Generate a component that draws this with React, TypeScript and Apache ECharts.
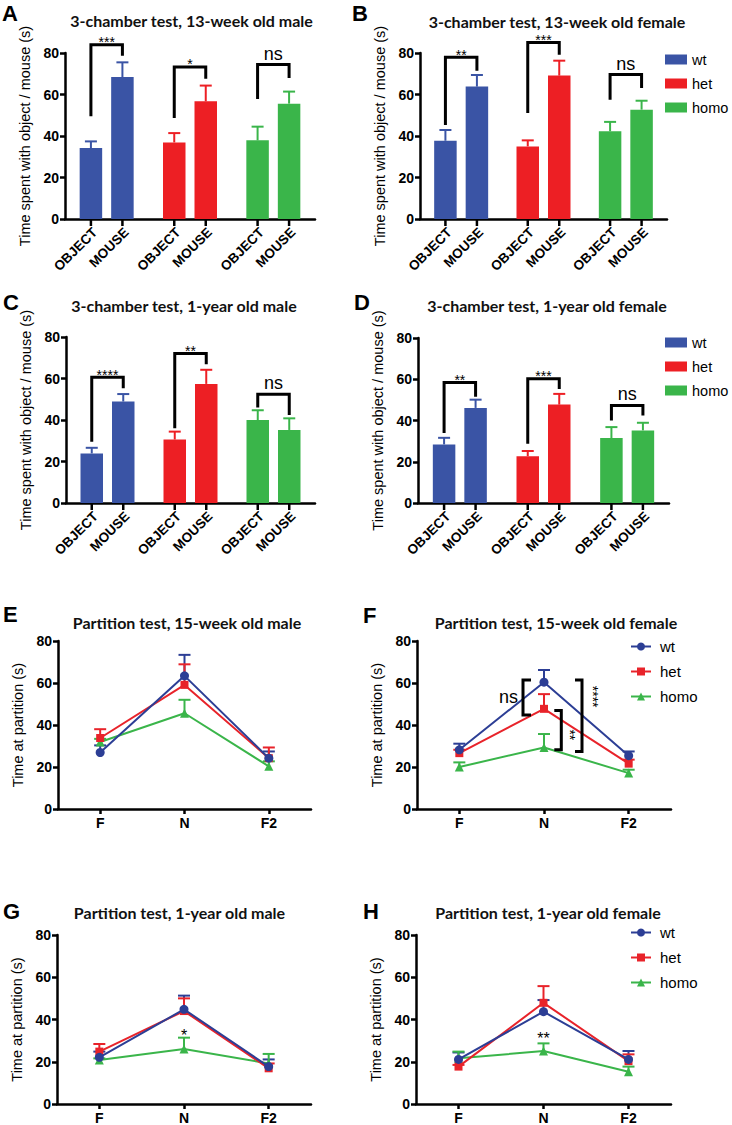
import React, { useEffect, useRef } from "react";
import * as echarts from "echarts";

// ---------- categories ----------
const genotypes = ["wt", "het", "homo"];
const chambers = ["OBJECT", "MOUSE"];
const partitions = ["F", "N", "F2"];

// ---------- 3-chamber test (mean and SEM, seconds) ----------
const aObject = [34.2, 36.9, 37.9];
const aObjectSem = [3.2, 4.5, 6.6];
const aMouse = [68.4, 56.7, 55.6];
const aMouseSem = [7.1, 7.6, 5.8];
const aSig = ["***", "*", "ns"];
const aBrackets = [[84.0, 49.5, 78.7], [73.3, 48.7, 67.6], [74.4, 57.8, 68.0]]; // top, left end, right end

const bObject = [37.7, 35.0, 42.3];
const bObjectSem = [5.2, 2.9, 4.5];
const bMouse = [63.8, 69.1, 52.7];
const bMouseSem = [5.6, 7.2, 4.3];
const bSig = ["**", "***", "ns"];
const bBrackets = [[77.9, 45.3, 71.5], [85.1, 51.1, 79.2], [69.6, 57.5, 63.1]];

const cObject = [23.9, 30.6, 40.0];
const cObjectSem = [2.7, 3.8, 4.7];
const cMouse = [48.9, 57.4, 35.2];
const cMouseSem = [3.6, 6.8, 5.6];
const cSig = ["****", "**", "ns"];
const cBrackets = [[60.6, 29.5, 55.3], [72.1, 36.0, 66.9], [52.4, 46.0, 42.4]];

const dObject = [28.4, 22.7, 31.5];
const dObjectSem = [3.2, 2.5, 5.3];
const dMouse = [46.1, 47.7, 35.2];
const dMouseSem = [4.0, 5.2, 3.7];
const dSig = ["**", "***", "ns"];
const dBrackets = [[58.4, 34.0, 51.5], [60.2, 28.7, 55.3], [47.3, 40.0, 42.4]];

// ---------- partition test (mean and SEM, seconds) at F, N, F2 ----------
const eWt = [26.9, 63.4, 24.2];
const eWtSem = [3.4, 10.0, 3.2];
const eHet = [33.8, 59.1, 24.2];
const eHetSem = [4.2, 9.8, 5.1];
const eHomo = [31.9, 45.6, 20.3];
const eHomoSem = [1.5, 6.4, 2.4];

const fWt = [28.2, 60.4, 25.4];
const fWtSem = [2.9, 5.8, 2.0];
const fHet = [26.6, 47.7, 21.6];
const fHetSem = [1.6, 7.0, 1.9];
const fHomo = [20.0, 29.3, 17.1];
const fHomoSem = [2.2, 6.4, 1.6];
// F brackets at N: top, bottom, label height
const fBrackets = [[61.4, 44.8, 53.1], [46.9, 28.2, 35.3], [61.4, 27.4, 53.5]];
const fBracketSig = ["ns", "**", "****"];

const gWt = [22.1, 44.8, 17.7];
const gWtSem = [2.7, 6.5, 3.4];
const gHet = [24.8, 44.0, 16.9];
const gHetSem = [3.6, 6.0, 2.3];
const gHomo = [20.8, 26.0, 19.2];
const gHomoSem = [0.8, 5.4, 4.5];
const gSig = ["*"];
const gSigAt = [34.2];

const hWt = [21.1, 43.7, 21.1];
const hWtSem = [3.3, 5.5, 4.0];
const hHet = [17.7, 47.9, 20.3];
const hHetSem = [0.8, 7.9, 3.2];
const hHomo = [21.6, 25.1, 15.3];
const hHomoSem = [3.2, 3.6, 2.4];
const hSig = ["**"];
const hSigAt = [32.7];

// ---------- styles ----------
const BAR_COLORS = ["#3a54a5", "#ed1f24", "#3ab54a"];
const LINE_COLORS = ["#2c3e95", "#e8232a", "#3ab54a"];
const SYMBOLS = ["circle", "rect", "triangle"];
const SYMBOL_SIZES = [9, 8, 9];
const AX = '"Liberation Sans", Arial, sans-serif';
const TITLE_FONT = "bold 16px Lato, sans-serif";
const BAR_W = 22.5;
const BAR_STEP = 31.5;

function yAxisCfg(name: string, nameGap: number, nameSize: number) {
  return {
    type: "value",
    min: 0,
    max: 80,
    interval: 20,
    axisLine: { show: true, lineStyle: { color: "#000", width: 2.5 } },
    axisTick: { show: true, length: 5, lineStyle: { color: "#000", width: 2.5 } },
    axisLabel: { color: "#000", fontWeight: "bold", fontSize: 14, fontFamily: AX, margin: 6 },
    splitLine: { show: false },
    name,
    nameLocation: "middle",
    nameGap,
    nameTextStyle: { fontSize: nameSize, fontFamily: AX, color: "#000" },
  };
}

function headerGraphics(p: any) {
  const [ox, oy] = p.box;
  return [
    {
      type: "text",
      x: p.titlePos[0] - ox,
      y: p.titlePos[1] - oy,
      style: { text: p.title, font: TITLE_FONT, fill: "#111", align: "center", verticalAlign: "middle", textAlign: "center", textVerticalAlign: "middle" },
    },
    {
      type: "text",
      x: p.letterPos[0] - ox,
      y: p.letterPos[1] - oy,
      style: { text: p.letter, font: `bold 22px ${AX}`, fill: "#000", align: "left", verticalAlign: "middle", textAlign: "left", textVerticalAlign: "middle" },
    },
  ];
}

function gridCfg(p: any) {
  const [ox, oy] = p.box;
  const [x0, x1, yTop, yBottom] = p.grid;
  return { left: x0 - ox, top: yTop - oy, width: x1 - x0, height: yBottom - yTop, outerBoundsMode: "none", containLabel: false };
}

function barOption(p: any) {
  const [ox, oy] = p.box;
  const series: any[] = [];
  genotypes.forEach((g, gi) => {
    [p.object, p.mouse].forEach((vals: number[], ci: number) => {
      series.push({
        type: "bar",
        name: g,
        stack: ci === 0 ? "obj" : "mouse",
        data: genotypes.map((_, i) => (i === gi ? vals[i] : "-")),
        barWidth: BAR_W,
        barGap: "40%",
        itemStyle: { color: BAR_COLORS[gi] },
        z: 2,
      });
    });
  });
  const errData: number[][] = [];
  genotypes.forEach((_, gi) => {
    errData.push([gi, 0, p.object[gi], p.objectSem[gi]]);
    errData.push([gi, 1, p.mouse[gi], p.mouseSem[gi]]);
  });
  series.push({
    type: "custom",
    silent: true,
    z: 3,
    encode: { x: 0, y: 2 },
    data: errData,
    renderItem: (_params: any, api: any) => {
      const gi = api.value(0);
      const ci = api.value(1);
      const m = api.value(2);
      const s = api.value(3);
      const base = api.coord([gi, 0]);
      const x = base[0] + (ci === 0 ? -1 : 1) * (BAR_STEP / 2);
      const yTop = api.coord([gi, m])[1];
      const yCap = api.coord([gi, m + s])[1];
      const col = BAR_COLORS[gi];
      return {
        type: "group",
        children: [
          { type: "line", shape: { x1: x, y1: yTop, x2: x, y2: yCap }, style: { stroke: col, lineWidth: 2 } },
          { type: "line", shape: { x1: x - 6, y1: yCap, x2: x + 6, y2: yCap }, style: { stroke: col, lineWidth: 2 } },
          { type: "line", shape: { x1: x, y1: base[1], x2: x, y2: base[1] + 7 }, style: { stroke: "#000", lineWidth: 2.5 } },
          {
            type: "text",
            x: x + 4,
            y: base[1] + 11,
            rotation: Math.PI / 4,
            style: { text: chambers[ci], font: `bold 13.5px ${AX}`, fill: "#000", align: "right", verticalAlign: "middle" },
          },
        ],
      };
    },
  });
  series.push({
    type: "custom",
    silent: true,
    z: 4,
    encode: { x: 0, y: 1 },
    data: p.brackets.map((b: number[], gi: number) => [gi, b[0], b[1], b[2]]),
    renderItem: (params: any, api: any) => {
      const gi = api.value(0);
      const xm = api.coord([gi, 0])[0];
      const xL = xm - BAR_STEP / 2;
      const xR = xm + BAR_STEP / 2;
      const yT = api.coord([gi, api.value(1)])[1];
      const yL = api.coord([gi, api.value(2)])[1];
      const yR = api.coord([gi, api.value(3)])[1];
      const label = p.sig[params.dataIndex];
      const isNs = label === "ns";
      return {
        type: "group",
        children: [
          {
            type: "polyline",
            shape: { points: [[xL, yL], [xL, yT], [xR, yT], [xR, yR]] },
            style: { stroke: "#000", lineWidth: 3, fill: "none" },
          },
          {
            type: "text",
            x: xm,
            y: isNs ? yT - 11 : yT - 2.5,
            style: {
              text: label,
              font: isNs ? `18px ${AX}` : `14px ${AX}`,
              fill: "#000",
              align: "center",
              verticalAlign: "middle",
            },
          },
        ],
      };
    },
  });
  const opt: any = {
    animation: false,
    backgroundColor: "transparent",
    grid: gridCfg(p),
    xAxis: {
      type: "category",
      data: genotypes,
      axisLine: { lineStyle: { color: "#000", width: 2.5 } },
      axisTick: { show: false },
      axisLabel: { show: false },
    },
    yAxis: yAxisCfg("Time spent with object / mouse (s)", p.nameGap, 14.5),
    series,
    graphic: headerGraphics(p),
  };
  if (p.legend) {
    opt.legend = {
      data: genotypes,
      orient: "vertical",
      left: p.legend[0] - ox,
      top: p.legend[1] - oy,
      itemWidth: 22,
      itemHeight: 10,
      itemGap: 9,
      padding: 0,
      icon: "rect",
      textStyle: { fontSize: 14.5, fontFamily: AX, color: "#000", padding: [0, 0, 0, 0] },
    };
  }
  return opt;
}

function lineOption(p: any) {
  const [ox, oy] = p.box;
  const series: any[] = [];
  const errData: number[][] = [];
  genotypes.forEach((g, si) => {
    series.push({
      type: "line",
      name: g,
      data: p.means[si],
      symbol: SYMBOLS[si],
      symbolSize: SYMBOL_SIZES[si],
      showSymbol: true,
      lineStyle: { color: LINE_COLORS[si], width: 2 },
      itemStyle: { color: LINE_COLORS[si] },
      z: 3 + (2 - si),
    });
    partitions.forEach((_, ci) => errData.push([ci, p.means[si][ci], p.sems[si][ci], si]));
  });
  series.push({
    type: "custom",
    silent: true,
    z: 2,
    encode: { x: 0, y: 1 },
    data: errData,
    renderItem: (_params: any, api: any) => {
      const ci = api.value(0);
      const m = api.value(1);
      const s = api.value(2);
      const si = api.value(3);
      const pt = api.coord([ci, m]);
      const yCap = api.coord([ci, m + s])[1];
      const col = LINE_COLORS[si];
      return {
        type: "group",
        children: [
          { type: "line", shape: { x1: pt[0], y1: pt[1], x2: pt[0], y2: yCap }, style: { stroke: col, lineWidth: 2 } },
          { type: "line", shape: { x1: pt[0] - 6, y1: yCap, x2: pt[0] + 6, y2: yCap }, style: { stroke: col, lineWidth: 2 } },
        ],
      };
    },
  });
  if (p.sig) {
    series.push({
      type: "custom",
      silent: true,
      z: 6,
      encode: { x: 0, y: 1 },
      data: p.sigAt.map((v: number) => [1, v]),
      renderItem: (params: any, api: any) => {
        const pt = api.coord([api.value(0), api.value(1)]);
        return {
          type: "text",
          x: pt[0],
          y: pt[1] + 3.3,
          style: { text: p.sig[params.dataIndex], font: `16px ${AX}`, fill: "#000", align: "center", verticalAlign: "middle" },
        };
      },
    });
  }
  if (p.brackets) {
    // pixel layout of the annotation brackets around N: [vertical line offset, tick offset, label offset]
    const layout = [[-21, 8, -5], [17.3, -7, 9], [38, -7, 11]];
    series.push({
      type: "custom",
      silent: true,
      z: 6,
      encode: { x: 0, y: 1 },
      data: p.brackets.map((b: number[]) => [1, b[0], b[1], b[2]]),
      renderItem: (params: any, api: any) => {
        const i = params.dataIndex;
        const xm = api.coord([1, 0])[0];
        const [dv, dt, dl] = layout[i];
        const xv = xm + dv;
        const xt = xv + dt;
        const yT = api.coord([1, api.value(1)])[1];
        const yB = api.coord([1, api.value(2)])[1];
        const yLab = api.coord([1, api.value(3)])[1];
        const label = p.bracketSig[i];
        const isNs = label === "ns";
        return {
          type: "group",
          children: [
            {
              type: "polyline",
              shape: { points: [[xt, yT], [xv, yT], [xv, yB], [xt, yB]] },
              style: { stroke: "#000", lineWidth: 3, fill: "none" },
            },
            isNs
              ? {
                  type: "text",
                  x: xv + dl,
                  y: yLab,
                  style: { text: label, font: `18px ${AX}`, fill: "#000", align: "right", verticalAlign: "middle" },
                }
              : {
                  type: "text",
                  x: xv + dl,
                  y: yLab,
                  rotation: -Math.PI / 2,
                  style: { text: label, font: `14px ${AX}`, fill: "#000", align: "center", verticalAlign: "middle" },
                },
          ],
        };
      },
    });
  }
  const opt: any = {
    animation: false,
    backgroundColor: "transparent",
    grid: gridCfg(p),
    xAxis: {
      type: "category",
      data: partitions,
      axisLine: { lineStyle: { color: "#000", width: 2.5 } },
      axisTick: { show: true, alignWithLabel: true, length: 5, lineStyle: { color: "#000", width: 2.5 } },
      axisLabel: { color: "#000", fontWeight: "bold", fontSize: 14, fontFamily: AX, margin: 7 },
    },
    yAxis: yAxisCfg("Time at partition (s)", p.nameGap, 14.5),
    series,
    graphic: headerGraphics(p),
  };
  if (p.legend) {
    opt.legend = {
      data: genotypes,
      orient: "vertical",
      left: p.legend[0] - ox,
      top: p.legend[1] - oy,
      itemWidth: 20,
      itemHeight: 10,
      itemGap: 10,
      padding: 0,
      textStyle: { fontSize: 15, fontFamily: AX, color: "#000", padding: [0, 0, 0, 4] },
    };
  }
  return opt;
}

// ---------- panel layouts (page pixel coordinates) ----------
const LEFT = [0, 350];
const RIGHT = [346, 386];
const ROWS = [[0, 280], [280, 290], [570, 280], [850, 275]];

const panels: any[] = [
  {
    kind: "bar", letter: "A", title: "3-chamber test, 13-week old male",
    box: [LEFT[0], ROWS[0][0], LEFT[1], ROWS[0][1]], grid: [65, 315, 53, 219],
    titlePos: [191.5, 20], letterPos: [2, 13], nameGap: 22,
    object: aObject, objectSem: aObjectSem, mouse: aMouse, mouseSem: aMouseSem, sig: aSig, brackets: aBrackets,
  },
  {
    kind: "bar", letter: "B", title: "3-chamber test, 13-week old female",
    box: [RIGHT[0], ROWS[0][0], RIGHT[1], ROWS[0][1]], grid: [420, 667, 53, 219],
    titlePos: [557, 21], letterPos: [352, 13], nameGap: 25, legend: [665, 52],
    object: bObject, objectSem: bObjectSem, mouse: bMouse, mouseSem: bMouseSem, sig: bSig, brackets: bBrackets,
  },
  {
    kind: "bar", letter: "C", title: "3-chamber test, 1-year old male",
    box: [LEFT[0], ROWS[1][0], LEFT[1], ROWS[1][1]], grid: [66, 315, 337, 503],
    titlePos: [184, 305], letterPos: [3, 302], nameGap: 23,
    object: cObject, objectSem: cObjectSem, mouse: cMouse, mouseSem: cMouseSem, sig: cSig, brackets: cBrackets,
  },
  {
    kind: "bar", letter: "D", title: "3-chamber test, 1-year old female",
    box: [RIGHT[0], ROWS[1][0], RIGHT[1], ROWS[1][1]], grid: [418, 669, 338, 503],
    titlePos: [547, 305], letterPos: [354, 302], nameGap: 23, legend: [665, 335],
    object: dObject, objectSem: dObjectSem, mouse: dMouse, mouseSem: dMouseSem, sig: dSig, brackets: dBrackets,
  },
  {
    kind: "line", letter: "E", title: "Partition test, 15-week old male",
    box: [LEFT[0], ROWS[2][0], LEFT[1], ROWS[2][1]], grid: [58, 311, 641, 809],
    titlePos: [187, 622], letterPos: [3, 614], nameGap: 26,
    means: [eWt, eHet, eHomo], sems: [eWtSem, eHetSem, eHomoSem],
  },
  {
    kind: "line", letter: "F", title: "Partition test, 15-week old female",
    box: [RIGHT[0], ROWS[2][0], RIGHT[1], ROWS[2][1]], grid: [417, 671, 641, 809],
    titlePos: [556, 622], letterPos: [363, 615], nameGap: 25, legend: [630, 639],
    means: [fWt, fHet, fHomo], sems: [fWtSem, fHetSem, fHomoSem],
    brackets: fBrackets, bracketSig: fBracketSig,
  },
  {
    kind: "line", letter: "G", title: "Partition test, 1-year old male",
    box: [LEFT[0], ROWS[3][0], LEFT[1], ROWS[3][1]], grid: [57, 311, 935, 1104],
    titlePos: [179.5, 912], letterPos: [3, 911], nameGap: 25,
    means: [gWt, gHet, gHomo], sems: [gWtSem, gHetSem, gHomoSem], sig: gSig, sigAt: gSigAt,
  },
  {
    kind: "line", letter: "H", title: "Partition test, 1-year old female",
    box: [RIGHT[0], ROWS[3][0], RIGHT[1], ROWS[3][1]], grid: [416, 671, 935, 1104],
    titlePos: [548, 912], letterPos: [363, 911], nameGap: 24, legend: [630, 925],
    means: [hWt, hHet, hHomo], sems: [hWtSem, hHetSem, hHomoSem], sig: hSig, sigAt: hSigAt,
  },
];

function Panel({ cfg }: { cfg: any }) {
  const ref = useRef<HTMLDivElement>(null);
  useEffect(() => {
    if (!ref.current) return;
    const chart = echarts.init(ref.current, null, { renderer: "svg" });
    chart.setOption(cfg.kind === "bar" ? barOption(cfg) : lineOption(cfg));
    return () => chart.dispose();
  }, [cfg]);
  const [x, y, w, h] = cfg.box;
  return <div ref={ref} style={{ position: "absolute", left: x, top: y, width: w, height: h }} />;
}

export default function App() {
  return (
    <div style={{ position: "absolute", left: 0, top: 0, width: 732, height: 1125, background: "#fff", overflow: "hidden" }}>
      {panels.map((p) => (
        <Panel key={p.letter} cfg={p} />
      ))}
    </div>
  );
}
